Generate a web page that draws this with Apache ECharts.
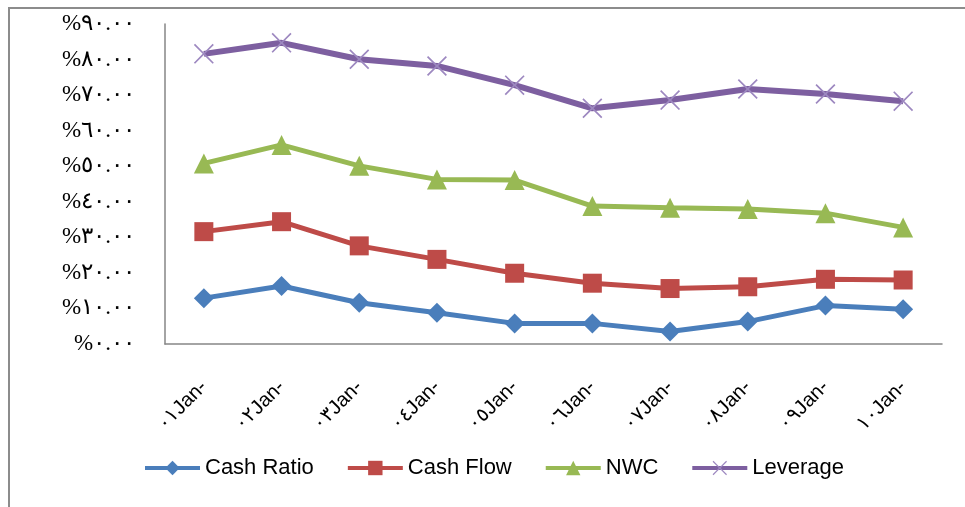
<!DOCTYPE html>
<html><head><meta charset="utf-8">
<script src="https://cdn.jsdelivr.net/npm/echarts@6/dist/echarts.min.js"></script>
<style>html,body{margin:0;padding:0;background:#fff}#c{width:965px;height:507px}</style>
</head><body><div id="c"></div>
<script>
const categories = ['٠١Jan-','٠٢Jan-','٠٣Jan-','٠٤Jan-','٠٥Jan-','٠٦Jan-','٠٧Jan-','٠٨Jan-','٠٩Jan-','١٠Jan-'];
const yTickLabels = ['%٠.٠٠','%١٠.٠٠','%٢٠.٠٠','%٣٠.٠٠','%٤٠.٠٠','%٥٠.٠٠','%٦٠.٠٠','%٧٠.٠٠','%٨٠.٠٠','%٩٠.٠٠'];
const seriesNames = ['Cash Ratio','Cash Flow','NWC','Leverage'];
const cashRatio = [12.9, 16.3, 11.6, 8.8, 5.8, 5.8, 3.5, 6.3, 10.8, 9.8];
const cashFlow  = [31.6, 34.4, 27.6, 23.8, 19.9, 17.1, 15.6, 16.1, 18.2, 18.0];
const nwc       = [50.8, 56.0, 50.1, 46.3, 46.1, 38.8, 38.3, 38.0, 36.8, 32.8];
const leverage  = [81.6, 84.7, 80.1, 78.2, 72.8, 66.3, 68.6, 71.7, 70.3, 68.3];

const xSym = 'path://M0,1.2L1.2,0L10,8.8L18.8,0L20,1.2L11.2,10L20,18.8L18.8,20L10,11.2L1.2,20L0,18.8L8.8,10Z';
const chart = echarts.init(document.getElementById('c'));
function mk(name, data, color, symbol, size, symColor, width) {
  return {
    name, type: 'line', data, symbol, symbolSize: size, showSymbol: true,
    lineStyle: {color, width: width},
    itemStyle: {color: symColor || color, borderWidth: 0},
    emphasis: {disabled: true}, animation: false, z: 2
  };
}
chart.setOption({
  animation: false,
  grid: {left: 165, right: 23, top: 24, bottom: 163, containLabel: false},
  graphic: [{type: 'rect', shape: {x: 9, y: 8, width: 970, height: 510},
    style: {fill: 'none', stroke: '#8c8c8c', lineWidth: 2}, silent: true}],
  legend: {
    data: seriesNames, top: 452, left: 138, itemWidth: 55, itemHeight: 18, itemGap: 32,
    lineStyle: {width: 4},
    textStyle: {fontFamily: 'Liberation Sans, Arial', fontSize: 22, color: '#000'}
  },
  xAxis: {
    type: 'category', data: categories, boundaryGap: true,
    axisLine: {lineStyle: {color: '#868686', width: 1.5}},
    axisTick: {show: false},
    axisLabel: {rotate: 45, margin: 40, fontSize: 20, color: '#000', fontFamily: 'Liberation Sans, Arial', interval: 0}
  },
  yAxis: {
    type: 'value', min: 0, max: 90, interval: 10,
    axisLine: {show: true, lineStyle: {color: '#868686', width: 1.5}},
    axisTick: {show: false},
    splitLine: {show: false},
    axisLabel: {margin: 30, fontSize: 23, color: '#000', fontFamily: 'Liberation Serif, Times New Roman',
      formatter: v => yTickLabels[Math.round(v / 10)]}
  },
  series: [
    mk(seriesNames[0], cashRatio, '#4a7ebb', 'diamond', 20, null, 5),
    mk(seriesNames[1], cashFlow, '#be4b48', 'rect', 19, null, 5),
    mk(seriesNames[2], nwc, '#98b954', 'triangle', 20, null, 5),
    mk(seriesNames[3], leverage, '#7d5fa0', xSym, 20, '#9d88c0', 6)
  ]
});
</script></body></html>
